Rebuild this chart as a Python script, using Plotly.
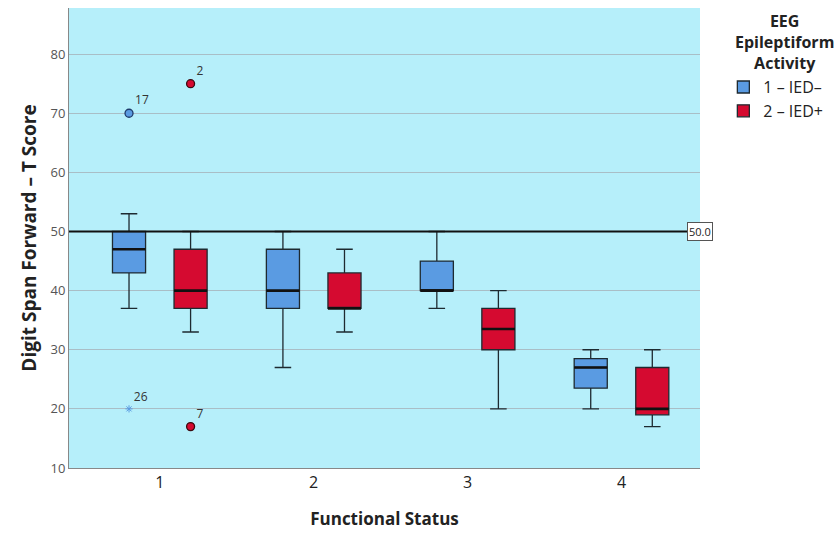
import plotly.graph_objects as go

groups = [1, 2, 3, 4]
tick_labels = ["1", "2", "3", "4"]
series_names = ["1 \u2013 IED\u2013", "2 \u2013 IED+"]
colors = ["#5A9BE2", "#D50A30"]

# Box statistics per group: [lower whisker, Q1, median, Q3, upper whisker]
ied_neg_low = [37, 27, 37, 20]
ied_neg_q1 = [43, 37, 40, 23.5]
ied_neg_med = [47, 40, 40, 27]
ied_neg_q3 = [50, 47, 45, 28.5]
ied_neg_high = [53, 50, 50, 30]

ied_pos_low = [33, 33, 20, 17]
ied_pos_q1 = [37, 37, 30, 19]
ied_pos_med = [40, 37, 33.5, 20]
ied_pos_q3 = [47, 43, 37, 27]
ied_pos_high = [50, 47, 40, 30]

# Outliers: (group, value, case label)
neg_out_group = [1]
neg_out_val = [70]
neg_out_label = ["17"]
neg_ext_group = [1]
neg_ext_val = [20]
neg_ext_label = ["26"]
pos_out_group = [1, 1]
pos_out_val = [75, 17]
pos_out_label = ["2", "7"]

ref_value = 50.0

offset = 0.2
bw = 0.215
FONT = "Open Sans, Lato, sans-serif"

fig = go.Figure()

stats = [
    (ied_neg_low, ied_neg_q1, ied_neg_med, ied_neg_q3, ied_neg_high, -offset),
    (ied_pos_low, ied_pos_q1, ied_pos_med, ied_pos_q3, ied_pos_high, offset),
]
for i, (lo, q1, md, q3, hi, off) in enumerate(stats):
    xs = [g + off for g in groups]
    fig.add_trace(go.Box(
        x=xs, lowerfence=lo, q1=q1, median=md, q3=q3, upperfence=hi,
        name=series_names[i], fillcolor=colors[i],
        line=dict(color="#1E2A30", width=1.3), width=bw, whiskerwidth=0.5,
        boxpoints=False, showlegend=True,
    ))

# thicker median lines
for i, (lo, q1, md, q3, hi, off) in enumerate(stats):
    mx, my = [], []
    for g, m in zip(groups, md):
        mx += [g + off - bw / 2, g + off + bw / 2, None]
        my += [m, m, None]
    fig.add_trace(go.Scatter(x=mx, y=my, mode="lines",
                             line=dict(color="#111111", width=2.6),
                             showlegend=False, hoverinfo="skip"))

fig.add_trace(go.Scatter(
    x=[g - offset for g in neg_out_group], y=neg_out_val, mode="markers+text",
    marker=dict(symbol="circle", size=8, color=colors[0], line=dict(color="#1E3A6A", width=1.3)),
    text=neg_out_label, textposition="top right", textfont=dict(size=12, color="#333"),
    showlegend=False))
fig.add_trace(go.Scatter(
    x=[g - offset for g in neg_ext_group], y=neg_ext_val, mode="markers+text",
    marker=dict(symbol="asterisk-open", size=6, color=colors[0], line=dict(color=colors[0], width=1)),
    text=neg_ext_label, textposition="top right", textfont=dict(size=12, color="#333"),
    showlegend=False))
fig.add_trace(go.Scatter(
    x=[g + offset for g in pos_out_group], y=pos_out_val, mode="markers+text",
    marker=dict(symbol="circle", size=8, color=colors[1], line=dict(color="#3A0A10", width=1.3)),
    text=pos_out_label, textposition="top right", textfont=dict(size=12, color="#333"),
    showlegend=False))

fig.add_shape(type="line", xref="paper", x0=0, x1=1, yref="y", y0=ref_value, y1=ref_value,
              line=dict(color="#111111", width=1.8), layer="above")
fig.add_annotation(xref="paper", x=1, yref="y", y=ref_value, text=f"{ref_value:.1f}",
                   showarrow=False, xanchor="center", bgcolor="white",
                   bordercolor="#555", borderwidth=1, borderpad=1,
                   font=dict(size=11, color="#222", family=FONT))

# legend title as centered annotation
fig.add_annotation(xref="paper", x=1.134, yref="paper", y=1.0, yanchor="top", xanchor="center",
                   text="<b>EEG<br>Epileptiform<br>Activity</b>", showarrow=False, align="center",
                   font=dict(size=16, color="#222", family=FONT))

fig.update_layout(
    width=839, height=537,
    margin=dict(l=69, r=139, t=8, b=69),
    paper_bgcolor="white", plot_bgcolor="#B6EFFA",
    font=dict(family=FONT, color="#222"),
    boxmode="overlay",
    legend=dict(
        x=1.037, xanchor="left", y=0.865, yanchor="top",
        font=dict(size=16, color="#222"), bgcolor="rgba(0,0,0,0)",
        tracegroupgap=0, itemwidth=30,
    ),
    xaxis=dict(
        range=[0.41, 4.51], tickvals=groups, ticktext=tick_labels,
        showgrid=False, zeroline=False, showline=True, linecolor="#888", linewidth=1,
        tickfont=dict(size=16, color="#222"),
        title=dict(text="<b>Functional Status</b>", font=dict(size=17, color="#222"), standoff=20),
    ),
    yaxis=dict(
        range=[10, 87.8], tickvals=[10, 20, 30, 40, 50, 60, 70, 80],
        showgrid=True, gridcolor="#A9BEC6", gridwidth=1.2, zeroline=False,
        showline=True, linecolor="#888", linewidth=1,
        tickfont=dict(size=13, color="#555"), ticks="",
        title=dict(text="<b>Digit Span Forward \u2013 T Score</b>", font=dict(size=19, color="#222"), standoff=8),
    ),
)

fig.write_html("out.html")
